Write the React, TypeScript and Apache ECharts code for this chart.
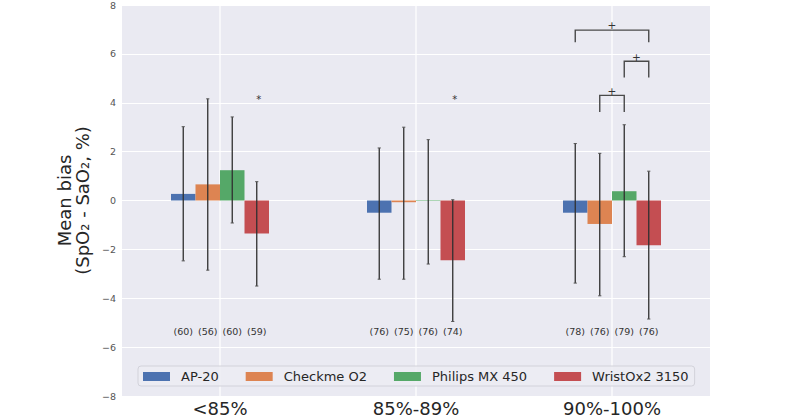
import React, { useEffect, useRef } from "react";
import * as echarts from "echarts";

const categories = ["<85%", "85%-89%", "90%-100%"];
const devices = ["AP-20", "Checkme O2", "Philips MX 450", "WristOx2 3150"];
const colors = ["#4C72B0", "#DD8452", "#55A868", "#C44E52"];

const ap20 = [0.27, -0.5, -0.5];
const checkme = [0.66, -0.07, -0.96];
const philips = [1.24, -0.02, 0.38];
const wristox = [-1.35, -2.45, -1.83];

const ap20Low = [-2.47, -3.22, -3.38];
const ap20High = [3.02, 2.15, 2.33];
const checkmeLow = [-2.85, -3.22, -3.9];
const checkmeHigh = [4.16, 3.0, 1.93];
const philipsLow = [-0.92, -2.6, -2.3];
const philipsHigh = [3.42, 2.49, 3.1];
const wristoxLow = [-3.5, -4.95, -4.85];
const wristoxHigh = [0.77, 0.03, 1.2];

const nAp20 = [60, 76, 78];
const nCheckme = [56, 75, 76];
const nPhilips = [60, 76, 79];
const nWristox = [59, 74, 76];
const nLabelY = -5.38;

const starCat = [0, 1];
const starBar = [3, 3];
const starY = [4.15, 4.15];

const bracketCat = [2, 2, 2];
const bracketFrom = [0, 2, 1];
const bracketTo = [3, 3, 2];
const bracketTop = [6.97, 5.7, 4.3];
const bracketLeg = [6.48, 5.03, 3.62];
const bracketMarkY = [7.18, 5.88, 4.49];

const values = [ap20, checkme, philips, wristox];
const lows = [ap20Low, checkmeLow, philipsLow, wristoxLow];
const highs = [ap20High, checkmeHigh, philipsHigh, wristoxHigh];
const counts = [nAp20, nCheckme, nPhilips, nWristox];

const FONT = "DejaVu Sans";

function barX(api: any, c: number, b: number) {
  const band = api.size([1, 0])[0];
  return api.coord([c, 0])[0] + (b - 1.5) * (band / 8);
}

export default function App() {
  const ref = useRef<HTMLDivElement>(null);
  useEffect(() => {
    const chart = echarts.init(ref.current!, null, { renderer: "svg" });

    const errData: number[][] = [];
    const nData: number[][] = [];
    const nText: string[] = [];
    for (let b = 0; b < 4; b++) {
      for (let c = 0; c < 3; c++) {
        errData.push([c, b, lows[b][c], highs[b][c]]);
        nData.push([c, b, nLabelY]);
        nText.push("(" + counts[b][c] + ")");
      }
    }
    const starData = starCat.map((c, i) => [c, starBar[i], starY[i]]);
    const bracketData = bracketCat.map((c, i) => [
      c,
      bracketFrom[i],
      bracketTo[i],
      bracketTop[i],
      bracketLeg[i],
      bracketMarkY[i],
    ]);

    const barSeries = devices.map((name, i) => ({
      type: "bar",
      name,
      data: values[i],
      barWidth: "12.5%",
      barGap: "0%",
      itemStyle: { color: colors[i] },
      z: 2,
    }));

    const option: any = {
      animation: false,
      backgroundColor: "#ffffff",
      textStyle: { fontFamily: FONT },
      grid: {
        left: 122,
        right: 90,
        top: 4.5,
        bottom: 21,
        show: true,
        backgroundColor: "#EAEAF2",
        borderWidth: 0,
      },
      legend: {
        data: devices,
        left: 138,
        top: 366,
        orient: "horizontal",
        icon: "rect",
        itemWidth: 27,
        itemHeight: 9,
        itemGap: 27,
        padding: [4, 6, 3, 5],
        backgroundColor: "rgba(236,236,243,0.9)",
        borderColor: "#d2d2da",
        borderWidth: 1,
        borderRadius: 3,
        textStyle: {
          fontSize: 13,
          color: "#262626",
          fontFamily: FONT,
          padding: [0, 0, 0, 6],
        },
        z: 10,
      },
      xAxis: {
        type: "category",
        data: categories,
        axisLine: { show: false },
        axisTick: { show: false },
        splitLine: { show: false },
        axisLabel: { fontSize: 18, color: "#262626", margin: 3, fontFamily: FONT },
      },
      yAxis: {
        type: "value",
        min: -8,
        max: 8,
        interval: 2,
        axisLine: { show: false },
        axisTick: { show: false },
        splitLine: { lineStyle: { color: "#ffffff", width: 1.2 } },
        axisLabel: {
          fontSize: 9.5,
          color: "#555555",
          margin: 6,
          fontFamily: FONT,
          formatter: (v: number) => (v < 0 ? "\u2212" + Math.abs(v) : String(v)),
        },
        name: "Mean bias\n(SpO\u2082 - SaO\u2082, %)",
        nameLocation: "middle",
        nameRotate: 90,
        nameGap: 17,
        nameTextStyle: { fontSize: 18, color: "#262626", lineHeight: 18, fontFamily: FONT },
      },
      series: [
        {
          type: "custom",
          z: 1,
          silent: true,
          data: [[0, -8, 8], [1, -8, 8], [2, -8, 8]],
          encode: { x: 0, y: [1, 2] },
          renderItem: (params: any, api: any) => {
            const c = api.value(0);
            const p1 = api.coord([c, api.value(1)]);
            const p2 = api.coord([c, api.value(2)]);
            return {
              type: "line",
              shape: { x1: p1[0], y1: p1[1], x2: p2[0], y2: p2[1] },
              style: { stroke: "#ffffff", lineWidth: 1.2 },
            };
          },
        },
        ...barSeries,
        {
          type: "custom",
          z: 3,
          silent: true,
          data: errData,
          encode: { x: 0, y: [2, 3] },
          renderItem: (params: any, api: any) => {
            const c = api.value(0);
            const b = api.value(1);
            const x = barX(api, c, b);
            const y1 = api.coord([c, api.value(2)])[1];
            const y2 = api.coord([c, api.value(3)])[1];
            return {
              type: "group",
              children: [
                { type: "line", shape: { x1: x, y1, x2: x, y2 }, style: { stroke: "#303030", lineWidth: 1.3 } },
                { type: "line", shape: { x1: x - 1.6, y1, x2: x + 1.6, y2: y1 }, style: { stroke: "#555555", lineWidth: 1 } },
                { type: "line", shape: { x1: x - 1.6, y1: y2, x2: x + 1.6, y2 }, style: { stroke: "#555555", lineWidth: 1 } },
              ],
            };
          },
        },
        {
          type: "custom",
          z: 3,
          silent: true,
          data: nData,
          encode: { x: 0, y: 2 },
          renderItem: (params: any, api: any) => {
            const c = api.value(0);
            const b = api.value(1);
            const x = barX(api, c, b);
            const y = api.coord([c, api.value(2)])[1];
            return {
              type: "text",
              x,
              y,
              style: {
                text: nText[params.dataIndex],
                fontSize: 9.5,
                fontFamily: FONT,
                fill: "#333333",
                align: "center",
                verticalAlign: "middle",
              },
            };
          },
        },
        {
          type: "custom",
          z: 3,
          silent: true,
          data: starData,
          encode: { x: 0, y: 2 },
          renderItem: (params: any, api: any) => {
            const c = api.value(0);
            const b = api.value(1);
            const x = barX(api, c, b) + 2;
            const y = api.coord([c, api.value(2)])[1];
            return {
              type: "text",
              x,
              y,
              style: {
                text: "*",
                fontSize: 10,
                fontFamily: FONT,
                fill: "#333333",
                align: "center",
                verticalAlign: "middle",
              },
            };
          },
        },
        {
          type: "custom",
          z: 3,
          silent: true,
          data: bracketData,
          encode: { x: 0, y: [3, 4] },
          renderItem: (params: any, api: any) => {
            const c = api.value(0);
            const xa = barX(api, c, api.value(1));
            const xb = barX(api, c, api.value(2));
            const yTop = api.coord([c, api.value(3)])[1];
            const yLeg = api.coord([c, api.value(4)])[1];
            const yMark = api.coord([c, api.value(5)])[1];
            return {
              type: "group",
              children: [
                {
                  type: "polyline",
                  shape: { points: [[xa, yLeg], [xa, yTop], [xb, yTop], [xb, yLeg]] },
                  style: { stroke: "#4a4a4a", lineWidth: 1.4, fill: "none" },
                },
                {
                  type: "text",
                  x: (xa + xb) / 2,
                  y: yMark,
                  style: {
                    text: "+",
                    fontSize: 10.5,
                    fontFamily: FONT,
                    fill: "#333333",
                    align: "center",
                    verticalAlign: "middle",
                  },
                },
              ],
            };
          },
        },
      ],
    };
    chart.setOption(option);
    return () => chart.dispose();
  }, []);
  return (
    <div
      ref={ref}
      style={{ position: "fixed", left: 0, top: 0, width: 800, height: 417, background: "#fff" }}
    />
  );
}
